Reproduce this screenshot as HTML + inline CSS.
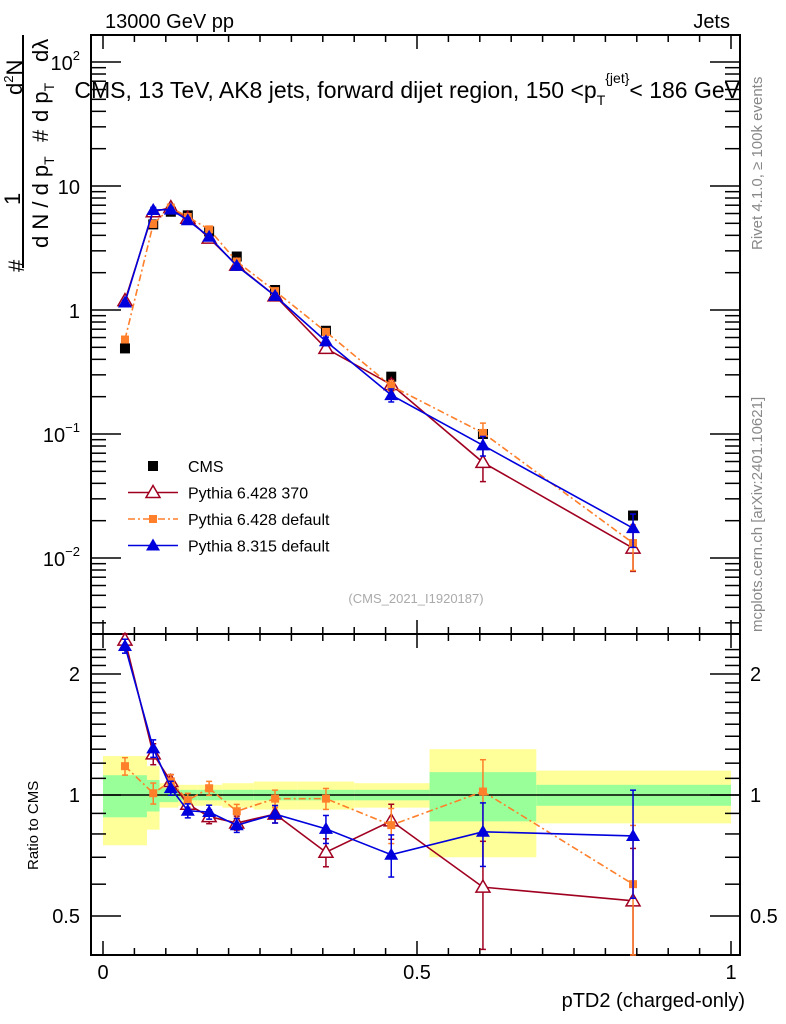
<!DOCTYPE html>
<html><head><meta charset="utf-8"><style>
body{margin:0;background:#fff;}
svg{display:block;font-family:"Liberation Sans",sans-serif;}
</style></head><body>
<svg id="c" width="786" height="1024" viewBox="0 0 786 1024" xmlns="http://www.w3.org/2000/svg">
<text x="105" y="28" font-size="20">13000 GeV pp</text>
<text x="730" y="28" font-size="20" text-anchor="end">Jets</text>
<text x="740" y="98" font-size="23" text-anchor="end">CMS, 13 TeV, AK8 jets, forward dijet region, 150 &lt;p<tspan font-size="14" dy="7">T</tspan><tspan font-size="14" dy="-22">{jet}</tspan><tspan dy="15">&lt; 186 GeV</tspan></text>
<text transform="translate(762,250) rotate(-90)" font-size="15" fill="#888">Rivet 4.1.0, ≥ 100k events</text>
<text transform="translate(762,632) rotate(-90)" font-size="15" fill="#888">mcplots.cern.ch [arXiv:2401.10621]</text>
<text x="416" y="603" font-size="13" fill="#aaa" text-anchor="middle">(CMS_2021_I1920187)</text>
<g font-size="22">
<text transform="translate(24,272) rotate(-90)">#</text>
<text transform="translate(20,205) rotate(-90)">1</text>
<text transform="translate(22,95) rotate(-90)">d<tspan font-size="13" dy="-9">2</tspan><tspan dy="9">N</tspan></text>
<line x1="23" y1="35" x2="23" y2="268" stroke="#000" stroke-width="2"/>
<text transform="translate(48,248) rotate(-90)">d N / d p<tspan font-size="14" dy="6">T</tspan></text>
<text transform="translate(48,142) rotate(-90)">#</text>
<text transform="translate(48,122) rotate(-90)">d p<tspan font-size="14" dy="6">T</tspan></text>
<text transform="translate(48,62) rotate(-90)">dλ</text>
</g>
<text transform="translate(38,870) rotate(-90)" font-size="15">Ratio to CMS</text>
<text x="745" y="1007" font-size="20" text-anchor="end">pTD2 (charged-only)</text>
<g id="g"></g>
</svg>
<script>
const binEdges=[0,0.07,0.09,0.12,0.15,0.19,0.24,0.31,0.40,0.52,0.69,1.0];
const xCenters=[0.035,0.08,0.108,0.135,0.169,0.213,0.274,0.355,0.459,0.605,0.844];
const cmsValues=[0.49,4.9,6.2,5.8,4.3,2.7,1.45,0.68,0.29,0.10,0.022];
const cmsStatRel=[0.12,0.09,0.04,0.03,0.03,0.03,0.03,0.03,0.03,0.14,0.06];
const cmsTotRel=[0.25,0.18,0.07,0.06,0.06,0.07,0.08,0.08,0.07,0.3,0.15];
const py6370=[1.19,6.2,6.7,5.5,3.8,2.3,1.30,0.49,0.25,0.059,0.012];
const py6370Err=[0.05,0.06,0.04,0.04,0.04,0.04,0.05,0.08,0.1,0.3,0.35];
const py6def=[0.578,4.95,6.7,5.63,4.47,2.46,1.42,0.666,0.244,0.102,0.0132];
const py6defErr=[0.05,0.06,0.04,0.04,0.04,0.04,0.05,0.06,0.1,0.2,0.4];
const py8=[1.15,6.4,6.45,5.3,3.9,2.27,1.3,0.56,0.206,0.081,0.0174];
const py8Err=[0.04,0.05,0.04,0.04,0.04,0.04,0.05,0.08,0.12,0.18,0.3];
const NS="http://www.w3.org/2000/svg";
const g=document.getElementById('g');
const L=91,R=740,T=35,MB=634,RB=955;
const X=v=>103+628*v;
const Y=v=>310-124*Math.log10(v);
const YR=r=>795-402*Math.log10(r);
function mk(t,a,p){const e=document.createElementNS(NS,t);for(const k in a)e.setAttribute(k,a[k]);(p||g).appendChild(e);return e;}
for(let i=0;i<xCenters.length;i++){
 const x1=X(binEdges[i]),x2=X(binEdges[i+1]);
 const b1=mk('rect',{x:x1,y:YR(1+cmsTotRel[i]),width:x2-x1,height:YR(1-cmsTotRel[i])-YR(1+cmsTotRel[i]),fill:'#ffff99'});
 
 
 const b2=mk('rect',{x:x1,y:YR(1+cmsStatRel[i]),width:x2-x1,height:YR(1-cmsStatRel[i])-YR(1+cmsStatRel[i]),fill:'#99ff99'});
 
 
}
mk('line',{x1:L,y1:795,x2:R,y2:795,stroke:'#000','stroke-width':1.5});
const f1=mk('rect',{x:L,y:T,width:R-L,height:MB-T,fill:'none',stroke:'#000','stroke-width':2});


const f2=mk('rect',{x:L,y:MB,width:R-L,height:RB-MB,fill:'none',stroke:'#000','stroke-width':2});


for(let k=0;k<=20;k++){const v=k*0.05,x=X(v),len=k%10==0?14:7;
 for(const [y0,d] of [[T,1],[MB,-1],[MB,1],[RB,-1]]) mk('line',{x1:x,y1:y0,x2:x,y2:y0+d*len,stroke:'#000','stroke-width':1.5});}
[['0',0],['0.5',0.5],['1',1]].forEach(([s,v])=>{const t=mk('text',{x:X(v),y:979,'font-size':20,'text-anchor':'middle'});t.textContent=s;});
for(let d=-3;d<=2;d++)for(let m=1;m<10;m++){const v=m*Math.pow(10,d),y=Y(v);if(y<T||y>MB)continue;const len=m==1?30:15;
 mk('line',{x1:L,y1:y,x2:L+len,y2:y,stroke:'#000','stroke-width':1.5});mk('line',{x1:R,y1:y,x2:R-len,y2:y,stroke:'#000','stroke-width':1.5});}
const yLabs=[['10',2],['10',1],['1',0],['10',-1],['10',-2]];
yLabs.forEach(([b,e])=>{const t=mk('text',{x:80,y:Y(Math.pow(10,e))+8,'font-size':20,'text-anchor':'end'});
 if(e==1||e==0)t.textContent=b;else{t.textContent=b;const s=mk('tspan',{'font-size':13,dy:-10},t);s.textContent=String(e).replace('-','−');}
 });
for(let k=4;k<=23;k++){const r=k/10,y=YR(r);if(y<MB||y>RB)continue;const maj=(k==5||k==10||k==20);const len=maj?30:15;
 mk('line',{x1:L,y1:y,x2:L+len,y2:y,stroke:'#000','stroke-width':1.5});mk('line',{x1:R,y1:y,x2:R-len,y2:y,stroke:'#000','stroke-width':1.5});}
[['2',2],['1',1],['0.5',0.5]].forEach(([s,r])=>{for(const [x,a] of [[80,'end'],[750,'start']]){const t=mk('text',{x:x,y:YR(r)+7,'font-size':20,'text-anchor':a});t.textContent=s;}});
function clipY(y,top,bot){return Math.max(top,Math.min(bot,y));}
function series(vals,errs,col,dash,marker,name,ratio){
 const Yf=ratio?(v,i)=>YR(v/cmsValues[i]):(v)=>Y(v);const top=ratio?MB:T,bot=ratio?RB:MB;
 const pts=vals.map((v,i)=>X(xCenters[i])+','+clipY(Yf(v,i),top,bot)).join(' ');
 const pl=mk('polyline',{points:pts,fill:'none',stroke:col,'stroke-width':1.6,'stroke-dasharray':dash||'none'});
 
 
 vals.forEach((v,i)=>{const x=X(xCenters[i]);const y=Yf(v,i);if(y<top-2||y>bot+2)return;
  const y1=clipY(Yf(v*(1+errs[i]),i),top,bot),y2=clipY(Yf(v*(1-errs[i]),i),top,bot);
  mk('line',{x1:x,y1:y1,x2:x,y2:y2,stroke:col,'stroke-width':1.5});
  mk('line',{x1:x-3,y1:y1,x2:x+3,y2:y1,stroke:col,'stroke-width':1.5});mk('line',{x1:x-3,y1:y2,x2:x+3,y2:y2,stroke:col,'stroke-width':1.5});
  drawMarker(marker,x,y,col,name);});
}
function drawMarker(marker,x,y,col,name){let m;
 if(marker=='sq')m=mk('rect',{x:x-5,y:y-5,width:10,height:10,fill:col});
 else if(marker=='sqs')m=mk('rect',{x:x-4,y:y-4,width:8,height:8,fill:col});
 else if(marker=='tri')m=mk('polygon',{points:`${x},${y-7} ${x-7},${y+5} ${x+7},${y+5}`,fill:col});
 else m=mk('polygon',{points:`${x},${y-7} ${x-7},${y+5} ${x+7},${y+5}`,fill:'#fff',stroke:col,'stroke-width':1.5});
 
 }
cmsValues.forEach((v,i)=>{drawMarker('sq',X(xCenters[i]),Y(v),'#000','cms');});
series(py6370,py6370Err,'#a00020',null,'otri','pythia6-370',false);
series(py6def,py6defErr,'#ff7f2a','7,3,2,3','sqs','pythia6-default',false);
series(py8,py8Err,'#0000dd',null,'tri','pythia8-default',false);
series(py6370,py6370Err,'#a00020',null,'otri','pythia6-370',true);
series(py6def,py6defErr,'#ff7f2a','7,3,2,3','sqs','pythia6-default',true);
series(py8,py8Err,'#0000dd',null,'tri','pythia8-default',true);
const leg=[['CMS','#000',null,'sq'],['Pythia 6.428 370','#a00020','','otri'],['Pythia 6.428 default','#ff7f2a','7,3,2,3','sqs'],['Pythia 8.315 default','#0000dd','','tri']];
leg.forEach((l,i)=>{const y=466+i*26.5;
 if(l[2]!==null)mk('line',{x1:128,y1:y,x2:178,y2:y,stroke:l[1],'stroke-width':1.6,'stroke-dasharray':l[2]||'none'});
 drawMarker(l[3],153,y,l[1],'legend');
 const t=mk('text',{x:188,y:y+6,'font-size':16});t.textContent=l[0];
 });
</script>
</body></html>
